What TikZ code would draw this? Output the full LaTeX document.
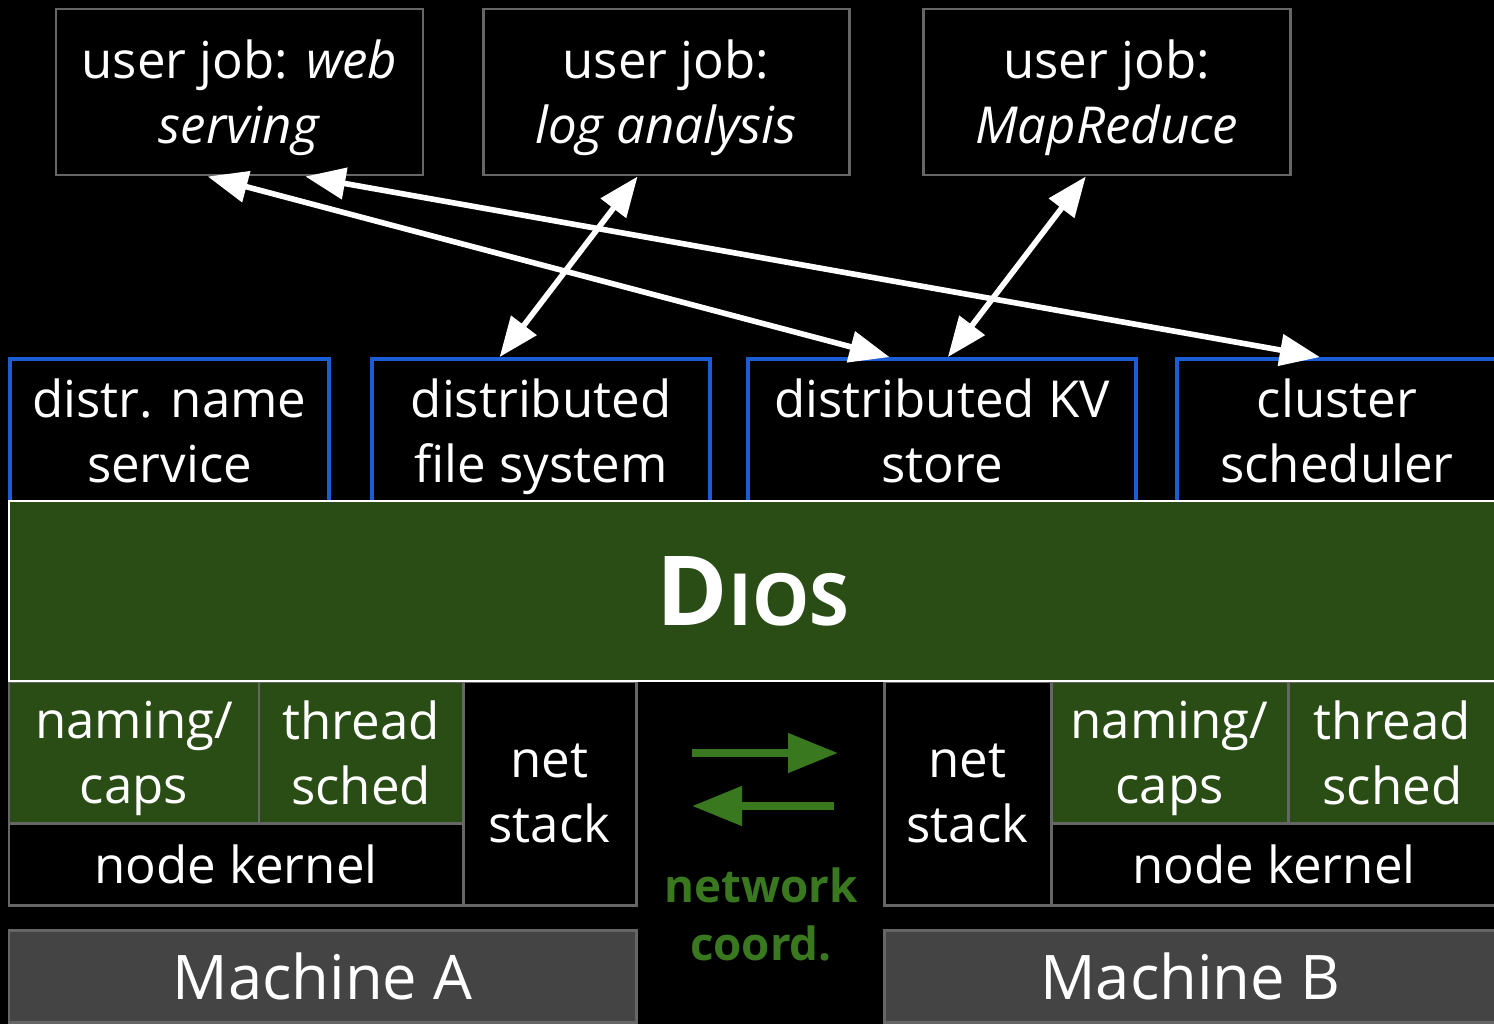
\documentclass[tikz,border=0pt]{standalone}
\usepackage{fontspec}
\setmainfont{Open Sans}
\usetikzlibrary{arrows.meta,calc}
\definecolor{boxgray}{RGB}{102,102,102}
\definecolor{diosblue}{RGB}{28,92,212}
\definecolor{diosgreen}{RGB}{42,77,22}
\definecolor{netgreen}{RGB}{58,120,32}
\definecolor{machgray}{RGB}{68,68,68}
\tikzset{
    box/.style={draw=boxgray, line width=1.7pt, text=white, align=center,
        inner sep=0pt, text depth=0pt, font=\fontsize{29}{37}\selectfont},
    jobbox/.style={box, fill=black, minimum height=3.32cm},
    svcbox/.style={box, draw=diosblue, line width=2.2pt, fill=black, minimum height=2.86cm},
    kernbox/.style={box, fill=diosgreen, minimum height=2.82cm},
    nkbox/.style={box, fill=black, minimum height=1.64cm},
    netbox/.style={box, fill=black, minimum height=4.46cm},
    machbox/.style={box, fill=machgray, minimum height=1.84cm,
        font=\fontsize{35}{40}\selectfont},
    jobarrow/.style={white, line width=3.2pt,
        {Triangle[length=0.8cm,width=0.62cm]}-{Triangle[length=0.8cm,width=0.62cm]}},
    netarrow/.style={netgreen, line width=4.5pt,
        -{Triangle[length=1.0cm,width=0.76cm]}}
}
\begin{document}
\begin{tikzpicture}
    \useasboundingbox (0,0) rectangle (29.88,20.48);
    \clip (0,0) rectangle (29.88,20.48);
    \fill[black] (0,0) rectangle (29.88,20.48);

    % user jobs
    \node[jobbox, minimum width=7.34cm] (web) at (4.79,18.64) {user job: \textit{web}\\\textit{serving}};
    \node[jobbox, minimum width=7.32cm] (log) at (13.32,18.64) {user job:\\\textit{log analysis}};
    \node[jobbox, minimum width=7.34cm] (mapred) at (22.13,18.64) {user job:\\\textit{MapReduce}};

    % distributed services
    \node[svcbox, minimum width=6.38cm] (dns) at (3.39,11.87) {distr. name\\service};
    \node[svcbox, minimum width=6.76cm] (dfs) at (10.82,11.87) {distributed\\file system};
    \node[svcbox, minimum width=7.76cm] (kv) at (18.84,11.87) {distributed KV\\store};
    \node[svcbox, minimum width=6.40cm] (sched) at (26.74,11.87) {cluster\\scheduler};

    % machine A
    \node[kernbox, minimum width=5.0cm] (namA) at (2.68,5.43) {naming/\\caps};
    \node[kernbox, minimum width=4.08cm] (thrA) at (7.22,5.43) {thread\\sched};
    \node[nkbox, minimum width=9.08cm] (nkA) at (4.72,3.20) {node kernel};
    \node[netbox, minimum width=3.46cm] (netA) at (10.99,4.61) {net\\stack};
    \node[machbox, minimum width=12.54cm] (macA) at (6.45,0.96) {Machine A};

    % machine B
    \node[netbox, minimum width=3.34cm] (netB) at (19.35,4.61) {net\\stack};
    \node[kernbox, minimum width=4.74cm] (namB) at (23.39,5.43) {naming/\\caps};
    \node[kernbox, minimum width=4.18cm] (thrB) at (27.85,5.43) {thread\\sched};
    \node[nkbox, minimum width=8.92cm] (nkB) at (25.48,3.20) {node kernel};
    \node[machbox, minimum width=12.26cm] (macB) at (23.81,0.96) {Machine B};

    % the OS layer
    \node[box, draw=white, fill=diosgreen, minimum width=29.76cm, minimum height=3.6cm] (dios)
        at (15.06,8.66) {\bfseries\fontsize{55}{60}\selectfont D\fontsize{41}{45}\selectfont IOS};

    % network coordination
    \coordinate (na1) at (13.84,5.42);
    \coordinate (na2) at (16.76,5.42);
    \coordinate (nb1) at (16.68,4.36);
    \coordinate (nb2) at (13.84,4.36);
    \draw[netarrow] (na1) -- (na2);
    \draw[netarrow] (nb1) -- (nb2);
    \node[text=netgreen, align=center, font=\bfseries\fontsize{26}{33}\selectfont] (coord)
        at (15.22,2.20) {network\\coord.};

    % job to service arrows
    \draw[jobarrow] ($(web.south west)!.414!(web.south east)$) -- ($(kv.north west)!.366!(kv.north east)$);
    \draw[jobarrow] ($(web.south west)!.678!(web.south east)$) -- ($(sched.north west)!.447!(sched.north east)$);
    \draw[jobarrow] ($(log.south west)!.423!(log.south east)$) -- ($(dfs.north west)!.379!(dfs.north east)$);
    \draw[jobarrow] ($(mapred.south west)!.444!(mapred.south east)$) -- ($(kv.north west)!.515!(kv.north east)$);
\end{tikzpicture}
\end{document}
